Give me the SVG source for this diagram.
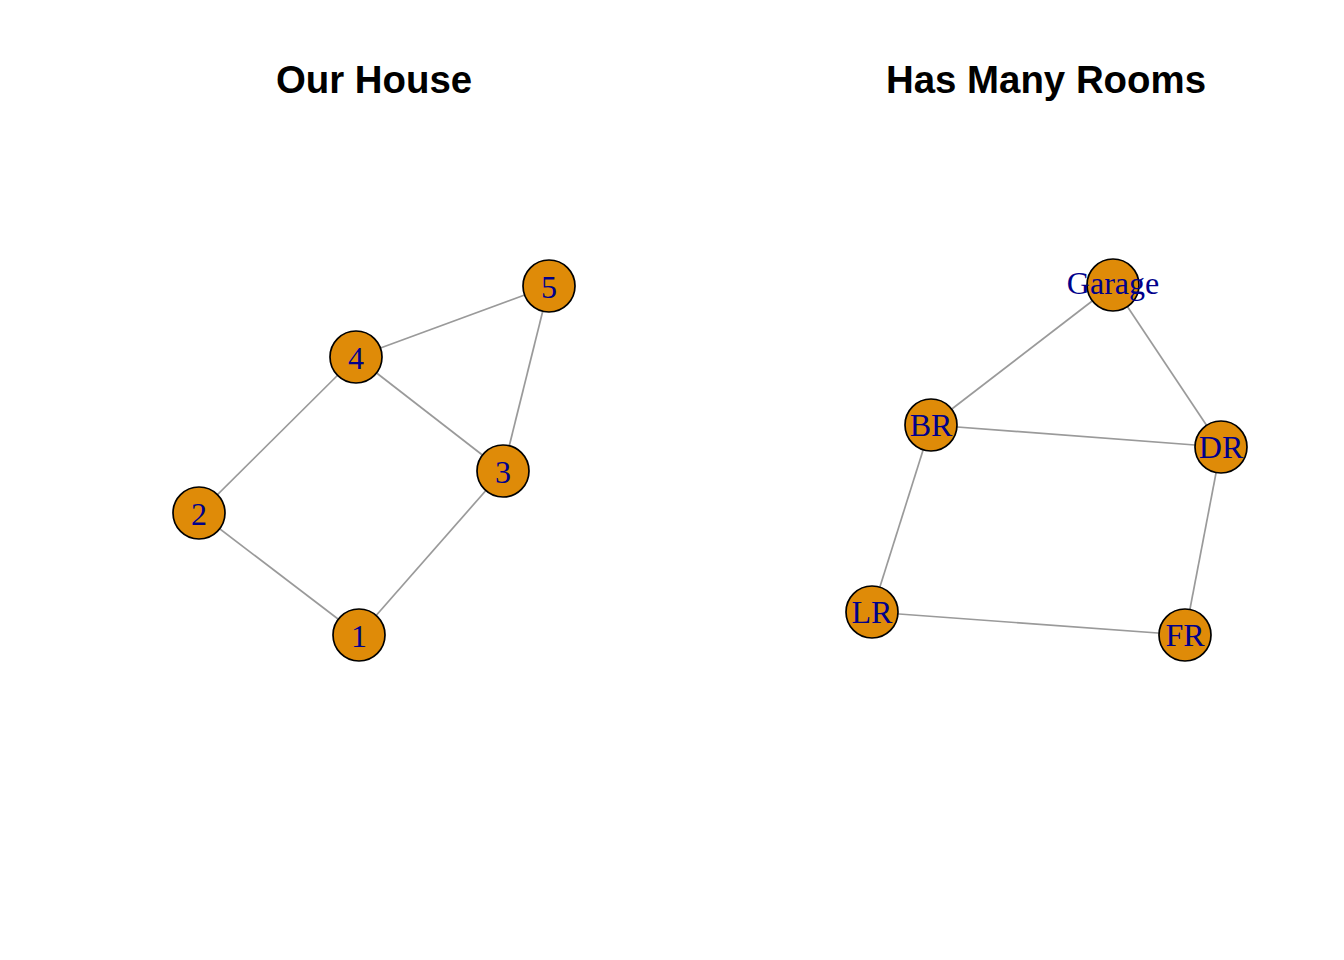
<svg xmlns="http://www.w3.org/2000/svg" width="1344" height="960" viewBox="0 0 1344 960">
<style>
.title{font-family:"Liberation Sans",Arial,sans-serif;font-weight:bold;font-size:38.4px;text-anchor:middle;fill:#000}
.edge{stroke:#9A9A9A;stroke-width:1.7;fill:none}
.node circle{fill:#DF8B08;stroke:#000;stroke-width:1.7}
.node text{font-family:"Liberation Serif","Times New Roman",serif;font-size:32px;fill:#00008B;text-anchor:middle}
</style>
<rect width="1344" height="960" fill="#fff"/>
<text class="title" x="374" y="93">Our House</text>
<text class="title" x="1046" y="93">Has Many Rooms</text>
<g id="connectors">
<line class="edge" x1="356" y1="357" x2="549" y2="286"/>
<line class="edge" x1="356" y1="357" x2="199" y2="513"/>
<line class="edge" x1="356" y1="357" x2="503" y2="471"/>
<line class="edge" x1="549" y1="286" x2="503" y2="471"/>
<line class="edge" x1="199" y1="513" x2="359" y2="635"/>
<line class="edge" x1="359" y1="635" x2="503" y2="471"/>
<line class="edge" x1="1113" y1="285" x2="931" y2="425"/>
<line class="edge" x1="1113" y1="285" x2="1221" y2="447"/>
<line class="edge" x1="931" y1="425" x2="1221" y2="447"/>
<line class="edge" x1="931" y1="425" x2="872" y2="612"/>
<line class="edge" x1="1221" y1="447" x2="1185" y2="635"/>
<line class="edge" x1="872" y1="612" x2="1185" y2="635"/>
</g>
<g id="n1" class="node"><circle cx="359" cy="635" r="26"/><text x="359" y="647">1</text></g>
<g id="n2" class="node"><circle cx="199" cy="513" r="26"/><text x="199" y="525">2</text></g>
<g id="n3" class="node"><circle cx="503" cy="471" r="26"/><text x="503" y="483">3</text></g>
<g id="n4" class="node"><circle cx="356" cy="357" r="26"/><text x="356" y="369">4</text></g>
<g id="n5" class="node"><circle cx="549" cy="286" r="26"/><text x="549" y="298">5</text></g>
<g id="garage" class="node"><circle cx="1113" cy="285" r="26"/><text x="1113" y="294">Garage</text></g>
<g id="br" class="node"><circle cx="931" cy="425" r="26"/><text x="931" y="436">BR</text></g>
<g id="dr" class="node"><circle cx="1221" cy="447" r="26"/><text x="1221" y="458">DR</text></g>
<g id="lr" class="node"><circle cx="872" cy="612" r="26"/><text x="872" y="623">LR</text></g>
<g id="fr" class="node"><circle cx="1185" cy="635" r="26"/><text x="1185" y="646">FR</text></g>
</svg>
